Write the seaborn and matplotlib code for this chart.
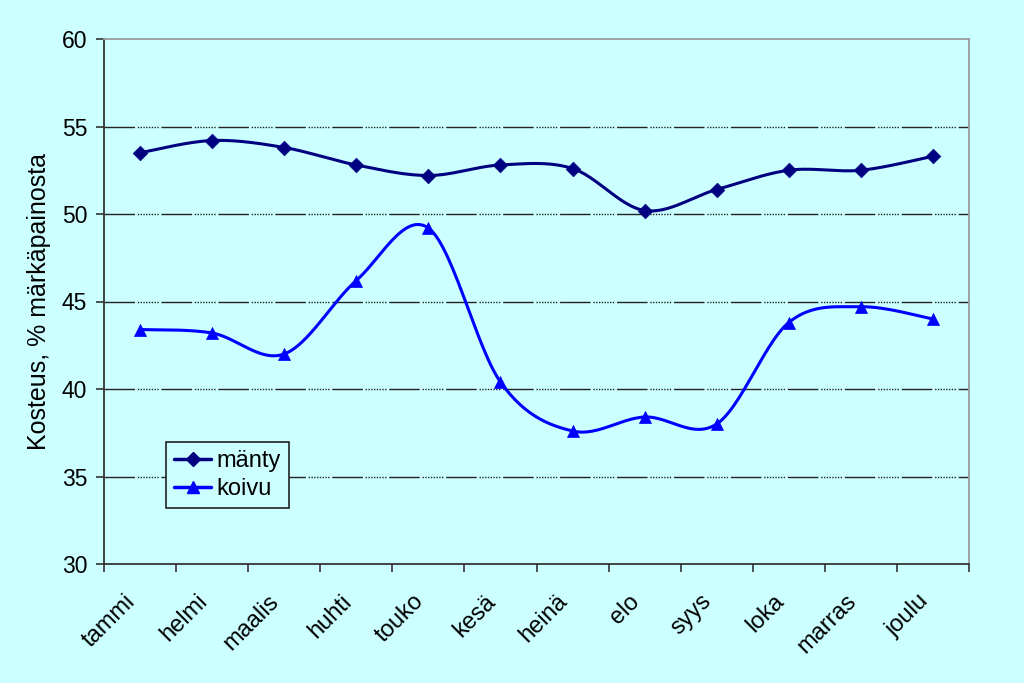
import numpy as np
import pandas as pd
import matplotlib
matplotlib.use("Agg")
import matplotlib.pyplot as plt
import matplotlib.transforms as mtransforms
import seaborn as sns
from matplotlib.lines import Line2D

months = ["tammi", "helmi", "maalis", "huhti", "touko", "kesä",
          "heinä", "elo", "syys", "loka", "marras", "joulu"]
manty = [53.5, 54.2, 53.8, 52.8, 52.2, 52.8, 52.6, 50.2, 51.4, 52.5, 52.5, 53.3]
koivu = [43.4, 43.2, 42.0, 46.2, 49.2, 40.4, 37.6, 38.4, 38.0, 43.8, 44.7, 44.0]
series_names = ["mänty", "koivu"]
y_ticks = [30, 35, 40, 45, 50, 55, 60]

BG = "#CCFFFF"
C_MANTY = "#000080"
C_KOIVU = "#0000FF"

sns.set_theme(style="white")
plt.rcParams["font.family"] = ["Liberation Sans", "DejaVu Sans"]
plt.rcParams["text.color"] = "black"
plt.rcParams["axes.labelcolor"] = "black"
plt.rcParams["xtick.color"] = "black"
plt.rcParams["ytick.color"] = "black"

df = pd.DataFrame({"month": months * 2,
                   "x": list(range(len(months))) * 2,
                   "value": manty + koivu,
                   "series": [series_names[0]] * 12 + [series_names[1]] * 12})


def smooth(xs, ys, n=30):
    """Catmull-Rom style smoothing (as in spreadsheet 'smoothed line')."""
    xs = np.asarray(xs, float)
    ys = np.asarray(ys, float)
    px = np.concatenate([[xs[0]], xs, [xs[-1]]])
    py = np.concatenate([[ys[0]], ys, [ys[-1]]])
    outx, outy = [], []
    t = np.linspace(0, 1, n)
    for i in range(1, len(px) - 2):
        p0x, p1x, p2x, p3x = px[i - 1], px[i], px[i + 1], px[i + 2]
        p0y, p1y, p2y, p3y = py[i - 1], py[i], py[i + 1], py[i + 2]
        c1x = p1x + (p2x - p0x) / 6
        c1y = p1y + (p2y - p0y) / 6
        c2x = p2x - (p3x - p1x) / 6
        c2y = p2y - (p3y - p1y) / 6
        bx = (1 - t) ** 3 * p1x + 3 * (1 - t) ** 2 * t * c1x + 3 * (1 - t) * t ** 2 * c2x + t ** 3 * p2x
        by = (1 - t) ** 3 * p1y + 3 * (1 - t) ** 2 * t * c1y + 3 * (1 - t) * t ** 2 * c2y + t ** 3 * p2y
        outx.extend(bx)
        outy.extend(by)
    return np.array(outx), np.array(outy)


fig = plt.figure(figsize=(10.24, 6.83), dpi=100)
fig.patch.set_facecolor(BG)
ax = fig.add_axes([104 / 1024, 1 - 564 / 683, (969 - 104) / 1024, (564 - 39) / 683])
ax.set_facecolor(BG)

# gridlines
for yv in y_ticks[1:-1]:
    ax.axhline(yv, color="#222222", lw=1.0,
               linestyle=(0, (22, 2, 1, 1, 1, 1, 1, 1, 1, 1, 1, 1, 1, 1, 1, 1, 1, 2)),
               zorder=1)

colors = {series_names[0]: C_MANTY, series_names[1]: C_KOIVU}
markers = {series_names[0]: "D", series_names[1]: "^"}
msizes = {series_names[0]: 55, series_names[1]: 75}

for name in series_names:
    sub = df[df["series"] == name]
    sx, sy = smooth(sub["x"], sub["value"])
    sm = pd.DataFrame({"x": sx, "y": sy})
    sns.lineplot(data=sm, x="x", y="y", ax=ax, color=colors[name], lw=2.2,
                 sort=False, estimator=None, zorder=3)
    sns.scatterplot(data=sub, x="x", y="value", ax=ax, color=colors[name],
                    marker=markers[name], s=msizes[name], edgecolor=colors[name],
                    linewidth=0.5, zorder=4)

ax.set_xlim(-0.5, len(months) - 0.5)
ax.set_ylim(30, 60)
ax.set_yticks(y_ticks)
ax.set_yticklabels([str(v) for v in y_ticks], fontsize=16.5)
ax.set_xticks(np.arange(-0.5, len(months), 1.0))
ax.set_xticklabels([])
ax.set_xticks(np.arange(len(months)), minor=True)
ax.set_xticklabels(months, minor=True, rotation=45, ha="right",
                   rotation_mode="anchor", fontsize=17)
ax.tick_params(axis="x", which="minor", length=0, pad=19)
ax.tick_params(axis="x", which="major", length=6, width=1.2, color="#333333", direction="out", bottom=True)
ax.tick_params(axis="y", length=6, width=1.2, color="#333333", direction="out", left=True, pad=6)
offset = mtransforms.ScaledTranslation(-0.16, 0, fig.dpi_scale_trans)
for lbl in ax.get_xticklabels(minor=True):
    lbl.set_transform(lbl.get_transform() + offset)
ax.set_xlabel("")
ax.set_ylabel("Kosteus, % märkäpainosta", fontsize=18, labelpad=8)

for side in ["left", "bottom"]:
    ax.spines[side].set_color("#333333")
    ax.spines[side].set_linewidth(1.3)
for side in ["top", "right"]:
    ax.spines[side].set_color("#999999")
    ax.spines[side].set_linewidth(1.3)

handles = [Line2D([0], [0], color=colors[n], lw=2.5, marker=markers[n],
                  markersize=7 if n == series_names[0] else 8) for n in series_names]
leg = ax.legend(handles, series_names, loc="upper left",
                bbox_to_anchor=((166 - 104) / 865, (564 - 442) / 525),
                frameon=True, fancybox=False, fontsize=17, handlelength=1.55,
                handletextpad=0.25, borderpad=0.35, labelspacing=0.25,
                borderaxespad=0)
leg.get_frame().set_edgecolor("#222222")
leg.get_frame().set_facecolor(BG)
leg.get_frame().set_linewidth(1.2)
leg.get_frame().set_alpha(1)

fig.savefig("out.png", dpi=100, facecolor=BG)
